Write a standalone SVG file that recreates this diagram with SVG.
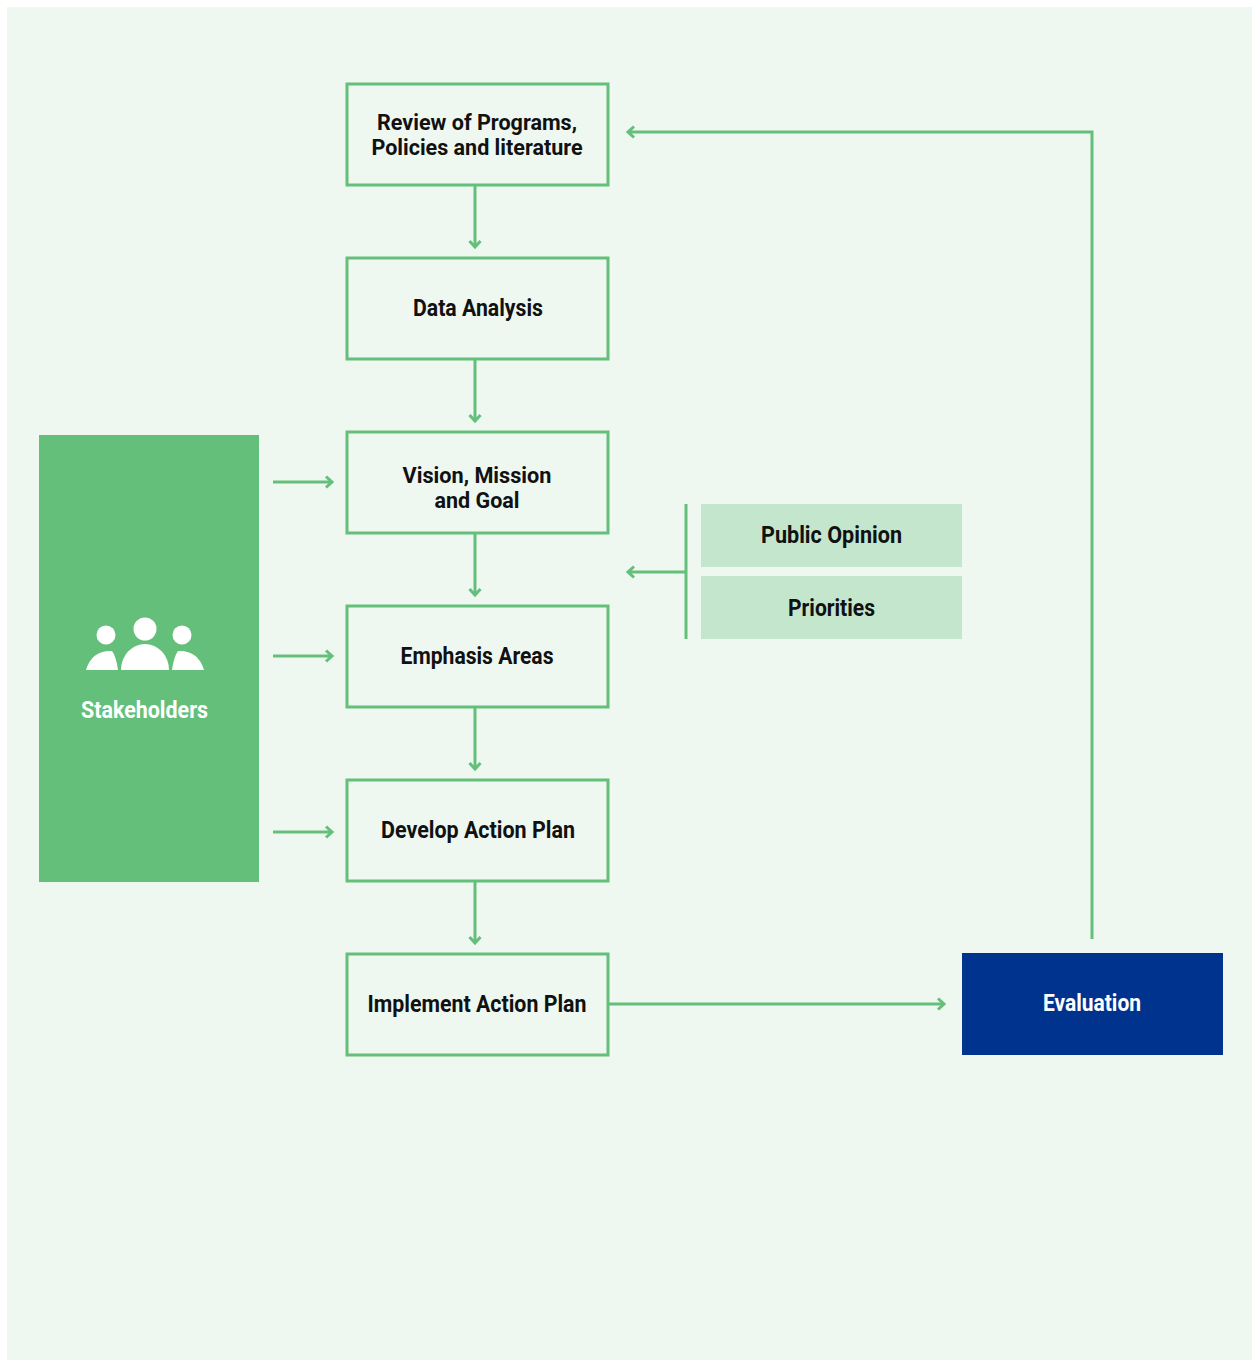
<svg xmlns="http://www.w3.org/2000/svg" width="1252" height="1360" viewBox="0 0 1252 1360">
<style>
.box{fill:none;stroke:#64BF7A;stroke-width:3}
.t{font-family:Roboto,"Liberation Sans",sans-serif;font-weight:bold;font-size:24px;fill:#111;text-anchor:middle}
.m{font-size:22px}
.w{fill:#fff}
.c{fill:none;stroke:#64BF7A;stroke-width:3}
.lg{fill:#C3E6CD}
</style>
<defs>
<marker id="ah" markerUnits="userSpaceOnUse" markerWidth="14" markerHeight="14" refX="9" refY="7" orient="auto">
<path d="M3,1.5 L9,7 L3,12.5" fill="none" stroke="#64BF7A" stroke-width="3"/>
</marker>
</defs>
<rect x="7" y="7" width="1245" height="1353" fill="#EEF8F0"/>
<g id="connectors">
<line class="c" x1="475" y1="186" x2="475" y2="247" marker-end="url(#ah)"/>
<line class="c" x1="475" y1="360" x2="475" y2="421" marker-end="url(#ah)"/>
<line class="c" x1="475" y1="534" x2="475" y2="595" marker-end="url(#ah)"/>
<line class="c" x1="475" y1="708" x2="475" y2="769" marker-end="url(#ah)"/>
<line class="c" x1="475" y1="882" x2="475" y2="943" marker-end="url(#ah)"/>
<line class="c" x1="273" y1="482" x2="332" y2="482" marker-end="url(#ah)"/>
<line class="c" x1="273" y1="656" x2="332" y2="656" marker-end="url(#ah)"/>
<line class="c" x1="273" y1="832" x2="332" y2="832" marker-end="url(#ah)"/>
<line class="c" x1="608" y1="1004" x2="944" y2="1004" marker-end="url(#ah)"/>
<line class="c" x1="686" y1="504" x2="686" y2="639"/>
<line class="c" x1="686" y1="572" x2="628" y2="572" marker-end="url(#ah)"/>
<polyline class="c" points="1092,939 1092,132 628,132" marker-end="url(#ah)"/>
</g>
<g id="review">
<rect class="box" x="347" y="84" width="261" height="101"/>
<text class="t m" x="477" y="130" textLength="200" lengthAdjust="spacingAndGlyphs">Review of Programs,</text>
<text class="t m" x="477" y="155" textLength="211" lengthAdjust="spacingAndGlyphs">Policies and literature</text>
</g>
<g id="data">
<rect class="box" x="347" y="258" width="261" height="101"/>
<text class="t" x="478" y="316" textLength="130" lengthAdjust="spacingAndGlyphs">Data Analysis</text>
</g>
<g id="vision">
<rect class="box" x="347" y="432" width="261" height="101"/>
<text class="t m" x="477" y="483" textLength="149" lengthAdjust="spacingAndGlyphs">Vision, Mission</text>
<text class="t m" x="477" y="508" textLength="85" lengthAdjust="spacingAndGlyphs">and Goal</text>
</g>
<g id="emphasis">
<rect class="box" x="347" y="606" width="261" height="101"/>
<text class="t" x="477" y="664" textLength="153" lengthAdjust="spacingAndGlyphs">Emphasis Areas</text>
</g>
<g id="develop">
<rect class="box" x="347" y="780" width="261" height="101"/>
<text class="t" x="478" y="838" textLength="194" lengthAdjust="spacingAndGlyphs">Develop Action Plan</text>
</g>
<g id="implement">
<rect class="box" x="347" y="954" width="261" height="101"/>
<text class="t" x="477" y="1012" textLength="219" lengthAdjust="spacingAndGlyphs">Implement Action Plan</text>
</g>
<g id="stakeholders">
<rect x="39" y="435" width="220" height="447" fill="#64BF7A"/>
<circle cx="145" cy="629" r="11.5" fill="#fff"/>
<path d="M121,670 L169,670 A24,26 0 0 0 121,670 Z" fill="#fff"/>
<circle cx="106" cy="635" r="9.5" fill="#fff"/>
<path d="M86,670 L118,670 Q116,656 112,651 Q92,650 86,670 Z" fill="#fff"/>
<circle cx="182" cy="635" r="9.5" fill="#fff"/>
<path d="M204,670 L172,670 Q174,656 178,651 Q198,650 204,670 Z" fill="#fff"/>
<text class="t w" x="144.5" y="718" textLength="127" lengthAdjust="spacingAndGlyphs">Stakeholders</text>
</g>
<g id="public-opinion">
<rect class="lg" x="701" y="504" width="261" height="63"/>
<text class="t" x="831.5" y="543" textLength="141" lengthAdjust="spacingAndGlyphs">Public Opinion</text>
</g>
<g id="priorities">
<rect class="lg" x="701" y="576" width="261" height="63"/>
<text class="t" x="831.5" y="616" textLength="87" lengthAdjust="spacingAndGlyphs">Priorities</text>
</g>
<g id="evaluation">
<rect x="962" y="953" width="261" height="102" fill="#00338D"/>
<text class="t w" x="1092" y="1011" textLength="98" lengthAdjust="spacingAndGlyphs">Evaluation</text>
</g>
</svg>
